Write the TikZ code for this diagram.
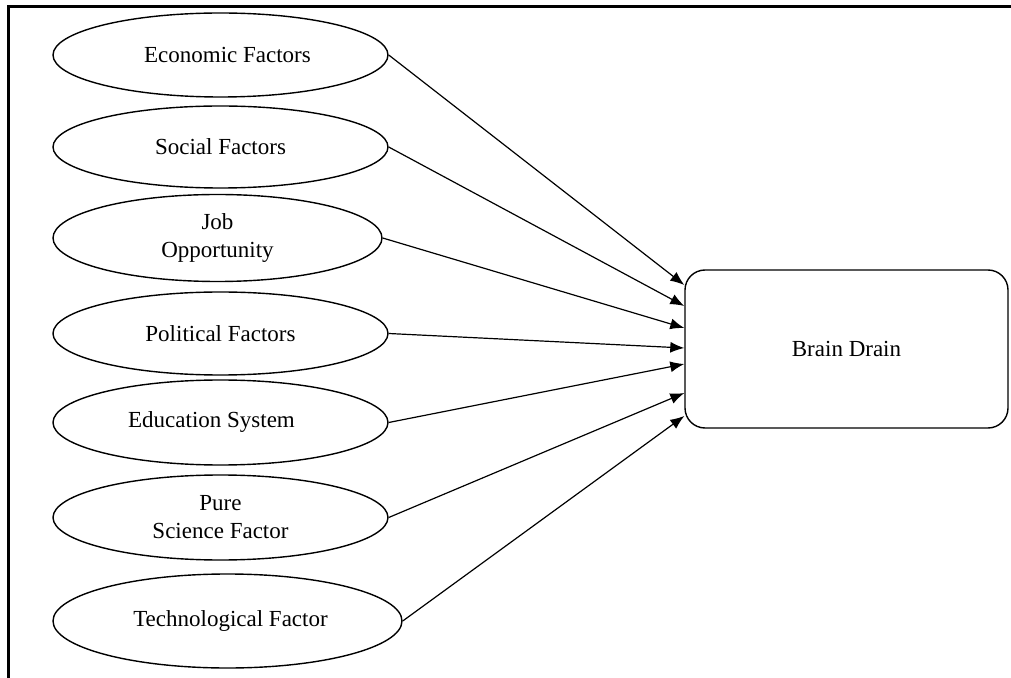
\documentclass[tikz,border=0pt]{standalone}
\usepackage{fontspec}
\setmainfont{Liberation Serif}
\usetikzlibrary{shapes.geometric,arrows.meta}

\tikzset{
  factor/.style={draw, ellipse, line width=0.7pt, inner sep=0pt,
    minimum width=167.5pt, minimum height=42pt, align=center,
    font=\fontsize{11.5}{14}\selectfont},
  outcome/.style={draw, rounded corners=10pt, line width=0.7pt,
    minimum width=161.5pt, minimum height=79pt,
    font=\fontsize{11.5}{14}\selectfont},
  link/.style={-{Latex[length=7pt,width=5.5pt]}, line width=0.6pt},
}

\begin{document}
\begin{tikzpicture}[x=0.5pt,y=-0.5pt]
  \useasboundingbox (0,0) rectangle (1011,678);
  % frame
  \draw[line width=1.5pt] (8,678) -- (8,7) -- (1011,7);
  % factors
  \node[factor] (eco) at (220.5,55) {\hspace*{7pt}Economic Factors};
  \node[factor, minimum height=41pt] (soc) at (220.5,147) {Social Factors};
  \node[factor, minimum width=164.5pt, minimum height=43.5pt] (job) at (217.5,238) {Job\\Opportunity};
  \node[factor, minimum height=41.5pt] (pol) at (220.5,333.5) {Political Factors};
  \node[factor, minimum height=42.5pt] (edu) at (220.5,422.5) {Education System\hspace*{9pt}};
  \node[factor, minimum height=42.5pt] (sci) at (220.5,517.5) {Pure\\Science Factor};
  \node[factor, minimum width=174.5pt, minimum height=47pt] (tec) at (227.5,621) {\hspace*{3pt}Technological Factor};
  % outcome
  \node[outcome] (bd) at (846.5,349) {Brain Drain};
  \foreach \x/\dy in {eco/32,soc/21.5,job/10.5,pol/0.5,edu/-7.5,sci/-22,tec/-33.5}
    \draw[link] (\x.east) -- ([yshift=\dy pt]bd.west);
\end{tikzpicture}
\end{document}
